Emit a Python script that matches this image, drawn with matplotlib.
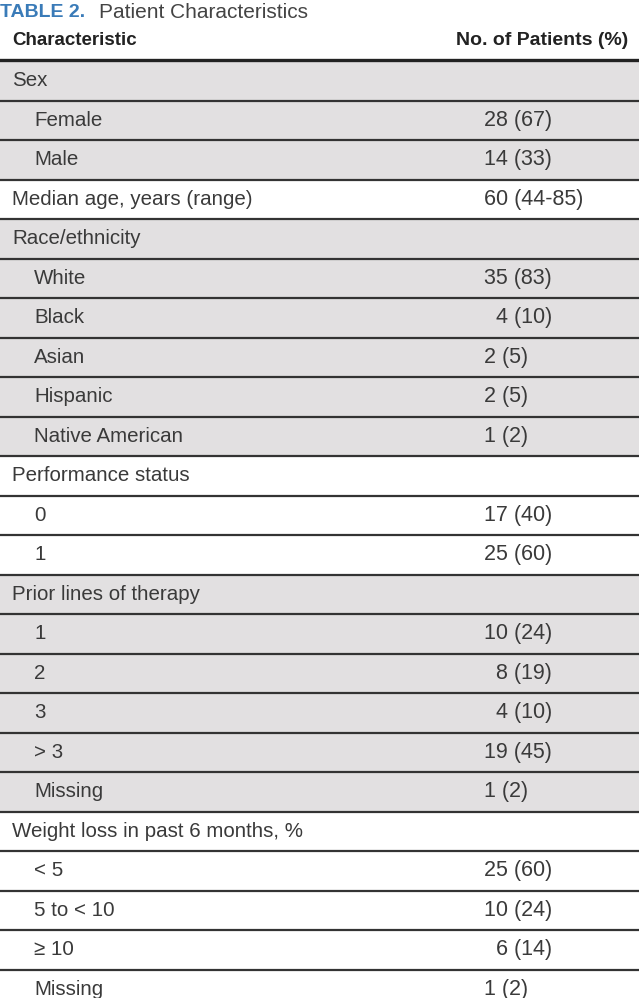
import matplotlib
matplotlib.use("Agg")
import matplotlib.pyplot as plt

# 表格数据
labels = ["Sex", "Female", "Male", "Median age, years (range)", "Race/ethnicity",
          "White", "Black", "Asian", "Hispanic", "Native American",
          "Performance status", "0", "1", "Prior lines of therapy",
          "1", "2", "3", "> 3", "Missing",
          "Weight loss in past 6 months, %", "< 5", "5 to < 10", "\u2265 10", "Missing"]
values = ["", "28 (67)", "14 (33)", "60 (44-85)", "",
          "35 (83)", "\u20074 (10)", "2 (5)", "2 (5)", "1 (2)",
          "", "17 (40)", "25 (60)", "",
          "10 (24)", "\u20078 (19)", "\u20074 (10)", "19 (45)", "1 (2)",
          "", "25 (60)", "10 (24)", "\u20076 (14)", "1 (2)"]
indent = [0, 1, 1, 0, 0, 1, 1, 1, 1, 1, 0, 1, 1, 0, 1, 1, 1, 1, 1, 0, 1, 1, 1, 1]
group = [0, 0, 0, 1, 2, 2, 2, 2, 2, 2, 3, 3, 3, 4, 4, 4, 4, 4, 4, 5, 5, 5, 5, 5]

W, H = 639, 998
top = 61
row_h = 39.5
gray = "#e2e0e1"
line_c = "#333333"
text_c = "#3a3a3a"
body_font = ["Liberation Sans", "DejaVu Sans"]

fig = plt.figure(figsize=(W / 100, H / 100), dpi=100)
ax = fig.add_axes([0, 0, 1, 1])
ax.set_xlim(0, W)
ax.set_ylim(H, 0)
ax.axis("off")

# 标题
ax.text(0, 12, "TABLE 2.", fontsize=14, fontweight="bold", color="#3a7bb8",
        family=body_font, va="center", ha="left")
ax.text(99, 12, "Patient Characteristics", fontsize=15, color="#444444",
        family=body_font, va="center", ha="left")

# 表头
ax.text(12, 40, "Characteristic", fontsize=13.5, fontweight="bold", color="#222222",
        family=body_font, va="center", ha="left")
ax.text(628, 40, "No. of Patients (%)", fontsize=14, fontweight="bold", color="#222222",
        family=body_font, va="center", ha="right")

# 行
for i, (lab, val) in enumerate(zip(labels, values)):
    y0 = top + i * row_h
    if group[i] % 2 == 0:
        ax.fill_between([0, W], y0, y0 + row_h, color=gray, lw=0, zorder=0)
    x = 34 if indent[i] else 12
    ax.text(x, y0 + row_h / 2, lab, fontsize=14.8, color=text_c, family=body_font,
            va="center", ha="left")
    if val:
        ax.text(484, y0 + row_h / 2, val, fontsize=15.5, color=text_c, family=body_font,
                va="center", ha="left")
    if i > 0:
        ax.plot([0, W], [y0, y0], color=line_c, lw=1.6, zorder=2)

ax.plot([0, W], [top - 1, top - 1], color="#222222", lw=2.4, zorder=3)

fig.savefig("out.png", dpi=100)
